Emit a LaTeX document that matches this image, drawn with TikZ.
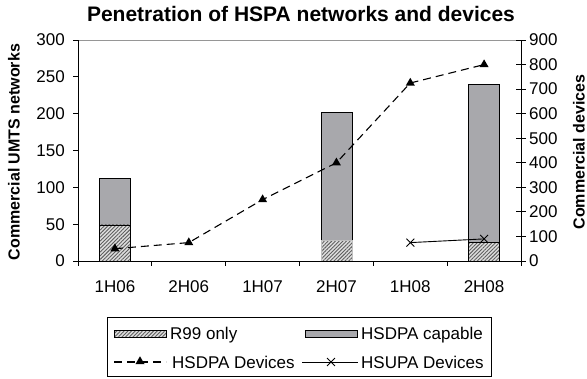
\documentclass[tikz,border=0pt]{standalone}
\usepackage{fontspec}
\setmainfont{Liberation Sans}
\usetikzlibrary{patterns.meta,shapes.geometric,shapes.misc}
\definecolor{barfill}{RGB}{168,168,172}
\definecolor{hatchbg}{RGB}{222,222,222}
\definecolor{hatchfg}{RGB}{95,95,95}
\definecolor{gridgray}{RGB}{150,150,150}
\begin{document}
\begin{tikzpicture}[x=1pt,y=-1pt,
  ticklab/.style={font=\fontsize{17}{20}\selectfont, inner sep=0pt},
  leglab/.style={font=\fontsize{17}{20}\selectfont, inner sep=0pt, anchor=base west},
  axlab/.style={font=\bfseries\fontsize{16}{19}\selectfont, rotate=90, inner sep=0pt},
  axisline/.style={draw=black, line width=0.9pt},
  netbar/.style={draw=black, line width=0.8pt, fill=barfill},
  r99bar/.style={draw=black, line width=0.8pt, preaction={fill=hatchbg},
     pattern={Lines[angle=45,distance=2.6pt,line width=0.9pt]}, pattern color=hatchfg},
  dsdpa/.style={draw=black, line width=1.1pt, dash pattern=on 8pt off 5pt},
  dsupa/.style={draw=black, line width=0.9pt},
  trimark/.style={regular polygon, regular polygon sides=3, fill=black, inner sep=0pt, minimum size=10.5pt},
  xmark/.style={cross out, draw=black, line width=0.9pt, inner sep=0pt, minimum size=7pt},
]
\useasboundingbox (0,0) rectangle (587,378);

% title
\node[font=\bfseries\fontsize{21}{24}\selectfont, inner sep=0pt, anchor=base] (title) at (301,21) {Penetration of HSPA networks and devices};

% plot frame
\coordinate (bl) at (78,261);
\coordinate (tl) at (78,40);
\coordinate (br) at (521,261);
\coordinate (tr) at (521,40);
\draw[draw=gridgray, line width=0.8pt] (tl) -- (tr);

% bars
\draw[netbar] (99.5,224.9) rectangle (130.5,178.5);
\draw[r99bar] (99.5,261) rectangle (130.5,224.9);
\draw[netbar] (321,240.4) rectangle (352,112.2);
\draw[r99bar, draw=gridgray!60, line width=0.4pt] (321,261) rectangle (352,240.4);
\draw[netbar] (468.5,242.6) rectangle (499.5,84.2);
\draw[r99bar] (468.5,261) rectangle (499.5,242.6);

% axes
\draw[axisline] (tl) -- (78,266);
\draw[axisline] (bl) -- (br);
\draw[axisline] (tr) -- (br);

% left ticks
\foreach \v in {0,50,...,300}{
  \draw[axisline] (73,{261-\v*0.73667}) -- (78,{261-\v*0.73667});
  \node[ticklab, anchor=east] (l\v) at (65,{261-\v*0.73667}) {\v};
}
% right ticks
\foreach \v in {0,100,...,900}{
  \draw[axisline] (516,{261-\v*0.245556}) -- (526,{261-\v*0.245556});
  \node[ticklab, anchor=west] (r\v) at (529,{261-\v*0.245556}) {\v};
}
% bottom ticks and categories
\foreach \i in {1,...,6}{
  \draw[axisline] ({78+73.833*\i},261) -- ({78+73.833*\i},266);
}
\foreach \c [count=\i] in {1H06,2H06,1H07,2H07,1H08,2H08}{
  \node[ticklab] (c\i) at ({78+73.833*(\i-0.5)},287) {\c};
}

% axis titles
\node[axlab] (ylab) at (14,152) {Commercial UMTS networks};
\node[axlab] (y2lab) at (579,152) {Commercial devices};

% HSDPA devices
\coordinate (d1) at (114.9,248.7);
\coordinate (d2) at (188.8,242.6);
\coordinate (d3) at (262.6,199.6);
\coordinate (d4) at (336.4,162.8);
\coordinate (d5) at (410.3,83.0);
\coordinate (d6) at (484.1,64.6);
\draw[dsdpa] (d1) -- (d2) -- (d3) -- (d4) -- (d5) -- (d6);
\foreach \k in {1,...,6}{ \node[trimark] (t\k) at (d\k) {}; }

% HSUPA devices
\coordinate (u1) at (410.3,242.6);
\coordinate (u2) at (484.1,238.9);
\draw[dsupa] (u1) -- (u2);
\node[xmark] (x1) at (u1) {};
\node[xmark] (x2) at (u2) {};

% legend
\node[draw=black, line width=0.9pt, minimum width=384pt, minimum height=59pt, inner sep=0pt] (legend) at (299,346.5) {};
\draw[r99bar] (114,330) rectangle (166,337);
\node[leglab] (lr99) at (170,339) {R99 only};
\draw[netbar] (305,330) rectangle (357,337);
\node[leglab] (lcap) at (361,339) {HSDPA capable};
\coordinate (ld1) at (114,362);
\coordinate (ld2) at (166,362);
\draw[dsdpa] (ld1) -- (ld2);
\node[trimark] (ltri) at (140,361.5) {};
\node[leglab] (ldev) at (172,368) {HSDPA Devices};
\coordinate (lu1) at (302,362);
\coordinate (lu2) at (358,362);
\draw[dsupa] (lu1) -- (lu2);
\node[xmark] (lx) at (331,362) {};
\node[leglab] (lup) at (361,368) {HSUPA Devices};
\end{tikzpicture}
\end{document}
